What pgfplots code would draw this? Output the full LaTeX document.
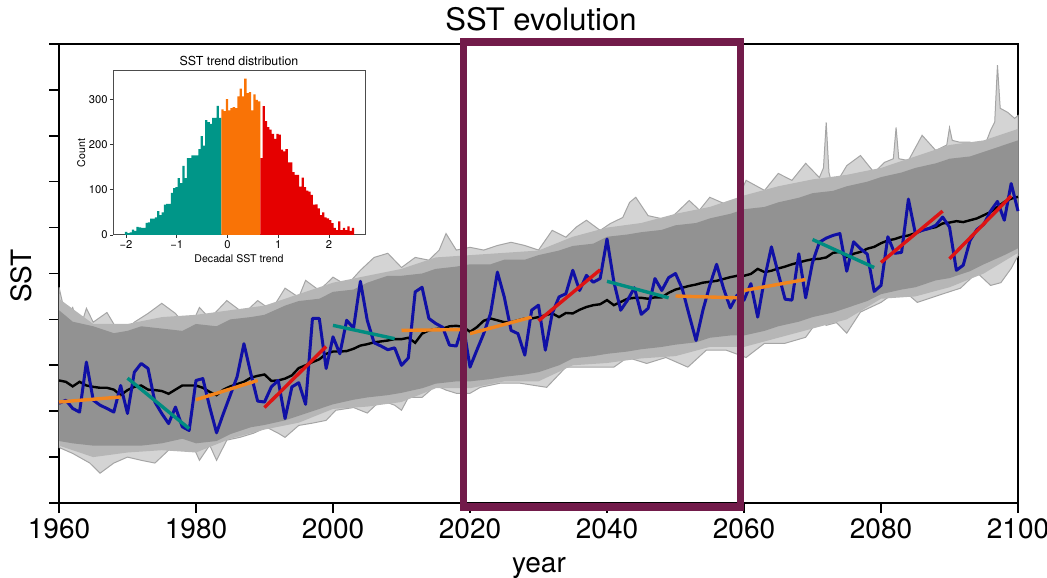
\documentclass[border=0pt]{standalone}
\usepackage{fontspec}
\setmainfont{TeX Gyre Heros}
\usepackage{pgfplots}
\pgfplotsset{compat=1.18}
\definecolor{obsblue}{RGB}{16,16,165}
\definecolor{tealc}{RGB}{0,150,136}
\definecolor{orangec}{RGB}{249,115,6}
\definecolor{redc}{RGB}{229,0,0}
\definecolor{ttl}{RGB}{0,140,128}
\definecolor{tor}{RGB}{242,133,30}
\definecolor{trd}{RGB}{222,20,20}
\definecolor{maroon}{RGB}{114,27,74}
\definecolor{envout}{RGB}{212,212,212}
\definecolor{envline}{RGB}{165,165,165}
\definecolor{envmid}{RGB}{182,182,182}
\definecolor{envcore}{RGB}{146,146,146}
\begin{document}
\begin{tikzpicture}
\useasboundingbox (-29.5pt,-37pt) rectangle (494pt,251.5pt);
\begin{axis}[at={(0pt,0pt)}, anchor=south west, scale only axis,
  width=479.5pt, height=229.5pt,
  xmin=1960, xmax=2100, ymin=0, ymax=10,
  xtick={1960,1980,...,2100}, ytick={0,...,10}, yticklabels={},
  xtick pos=bottom, ytick pos=left,
  tick align=outside, major tick length=5pt,
  tick style={black, line width=0.8pt},
  axis line style={line width=1pt},
  /pgf/number format/assume math mode=true,
  /pgf/number format/1000 sep={},
  xticklabel style={font=\fontsize{14}{17}\selectfont, inner sep=0pt, anchor=north, yshift=-2.5pt},
  clip=false]
% ensemble envelope (outer, sparse members)
\addplot[fill=envout, draw=envline, line width=0.5pt] coordinates {
(1960,4.70)(1961,4.05)(1962,4.26)(1963,3.76)(1964,4.24)(1965,3.94)(1967,4.15)(1969,3.65)(1971,3.94)(1973,4.13)(1975,4.35)(1977,4.13)(1979,3.76)(1980.5,4.26)(1982,4.02)(1984.5,4.41)(1987,4.13)(1989,4.41)(1991,4.20)(1993,4.68)(1995,4.48)(1996,4.85)(1998,4.63)(2000,4.92)(2002,4.74)(2004,5.07)(2006,5.35)(2008,5.44)(2010,5.13)(2012,5.35)(2014,5.29)(2015.5,5.51)(2016.5,5.87)(2018,5.51)(2020,5.57)(2022,5.51)(2024,5.61)(2026,5.68)(2028,5.61)(2030,5.51)(2032,5.94)(2034,5.79)(2035.5,6.01)(2037,6.16)(2039,5.94)(2040.5,6.09)(2042.3,6.22)(2043.3,6.55)(2044.2,6.66)(2046,6.26)(2049,6.16)(2052,6.59)(2053.5,6.38)(2055,6.66)(2057,6.53)(2059,6.59)(2060.3,7.03)(2063,6.81)(2065,7.18)(2067,7.03)(2069,7.40)(2071,7.09)(2071.6,7.3)(2072,8.29)(2072.4,7.2)(2073,6.85)(2075,7.35)(2077,7.57)(2079,7.20)(2080.5,7.42)(2081.8,7.5)(2082.2,8.18)(2082.6,7.5)(2084,7.46)(2086,8.01)(2088,7.68)(2089.6,7.8)(2090,8.18)(2090.4,7.9)(2091.5,7.86)(2093,7.86)(2095,7.73)(2096,8.12)(2096.6,8.3)(2097,9.54)(2097.4,8.6)(2098.5,8.51)(2099.5,8.38)(2100,8.44)
(2100,5.39)(2099,5.11)(2097.5,4.80)(2096,4.74)(2094,5.02)(2091.6,4.68)(2088.3,4.52)(2085.3,4.37)(2082.9,4.68)(2080,4.37)(2077,4.16)(2075,3.70)(2073.5,3.93)(2072,3.87)(2071,4.02)(2069,3.61)(2066,3.48)(2063,3.48)(2060.3,3.17)(2057.4,3.33)(2054.5,3.33)(2051.8,2.96)(2048.6,3.17)(2045.8,3.04)(2043,3.17)(2041,2.96)(2038,2.96)(2034,2.96)(2031.2,2.52)(2027.3,2.61)(2024.4,2.61)(2021.5,2.52)(2020,2.39)(2018,2.39)(2016.5,2.46)(2015,2.56)(2013,2.30)(2011,2.30)(2010,2.02)(2009,2.13)(2007,2.24)(2005,1.96)(2003,2.08)(2000.4,2.02)(1999,1.80)(1997,1.74)(1995,1.69)(1993,1.43)(1992,1.52)(1990.3,1.65)(1988.4,1.52)(1986.4,1.43)(1984.5,1.37)(1983,0.93)(1982,1.26)(1980.5,0.93)(1979,1.43)(1977.7,1.30)(1976,1.15)(1974,0.87)(1972,0.93)(1970,1.00)(1968,0.87)(1966,0.65)(1964.5,0.87)(1962,1.08)(1960,1.21)(1960,4.70)};
% ensemble intermediate band
\addplot[fill=envmid, draw=none] coordinates {
(1960,4.45)(1965,3.90)(1970,3.90)(1975,4.05)(1980,4.10)(1985,4.20)(1990,4.30)(1995,4.55)(2000,4.80)(2005,4.95)(2010,5.10)(2015,5.35)(2020,5.40)(2025,5.45)(2030,5.50)(2035,5.80)(2040,6.00)(2045,6.10)(2050,6.30)(2055,6.45)(2060,6.70)(2065,6.90)(2070,7.05)(2075,7.15)(2080,7.30)(2085,7.55)(2090,7.80)(2095,7.90)(2100,8.15)
(2100,5.45)(2095,5.00)(2090,4.70)(2085,4.50)(2080,4.45)(2075,4.00)(2070,3.80)(2065,3.60)(2060,3.40)(2055,3.40)(2050,3.20)(2045,3.15)(2040,3.05)(2035,3.00)(2030,2.65)(2025,2.65)(2020,2.50)(2015,2.50)(2010,2.20)(2005,2.10)(2000,2.05)(1995,1.75)(1990,1.60)(1985,1.40)(1980,1.10)(1975,1.15)(1970,1.10)(1965,1.00)(1960,1.25)(1960,4.45)};
% ensemble dense core
\addplot[fill=envcore, draw=none] coordinates {
(1960,4.20)(1962,3.95)(1965,3.85)(1968,3.70)(1970,3.75)(1972,3.85)(1975,3.80)(1978,3.75)(1980,3.90)(1983,3.85)(1985,4.00)(1988,4.05)(1990,4.10)(1993,4.30)(1995,4.40)(1998,4.45)(2000,4.60)(2003,4.65)(2005,4.80)(2008,4.95)(2010,4.95)(2013,5.00)(2015,5.10)(2018,5.15)(2020,5.20)(2023,5.20)(2025,5.30)(2028,5.30)(2030,5.40)(2033,5.50)(2035,5.60)(2038,5.65)(2040,5.80)(2043,5.85)(2045,5.90)(2048,5.95)(2050,6.05)(2053,6.10)(2055,6.20)(2058,6.30)(2060,6.40)(2063,6.45)(2065,6.55)(2068,6.65)(2070,6.75)(2073,6.80)(2075,6.90)(2078,7.00)(2080,7.10)(2083,7.20)(2085,7.30)(2088,7.40)(2090,7.50)(2093,7.55)(2095,7.65)(2098,7.80)(2100,7.90)
(2100,5.55)(2098,5.40)(2095,5.20)(2093,5.05)(2090,4.90)(2088,4.85)(2085,4.70)(2083,4.65)(2080,4.55)(2078,4.40)(2075,4.25)(2073,4.15)(2070,4.05)(2068,3.95)(2065,3.85)(2063,3.75)(2060,3.65)(2058,3.65)(2055,3.60)(2053,3.50)(2050,3.45)(2048,3.40)(2045,3.35)(2043,3.30)(2040,3.25)(2038,3.20)(2035,3.15)(2033,3.00)(2030,2.85)(2028,2.80)(2025,2.75)(2023,2.70)(2020,2.65)(2018,2.65)(2015,2.60)(2013,2.50)(2010,2.40)(2008,2.35)(2005,2.30)(2003,2.25)(2000,2.15)(1998,2.05)(1995,1.90)(1993,1.80)(1990,1.70)(1988,1.65)(1985,1.50)(1983,1.35)(1980,1.30)(1978,1.40)(1975,1.30)(1972,1.25)(1970,1.25)(1968,1.25)(1965,1.25)(1962,1.30)(1960,1.35)(1960,4.20)};
% ensemble mean
\addplot[black, line width=1.2pt, mark=none] coordinates {
(1960,2.67)(1961,2.64)(1962,2.54)(1963,2.64)(1964,2.56)(1965,2.53)(1966,2.51)(1967,2.51)(1968,2.47)(1969,2.35)(1970,2.46)(1971,2.53)(1972,2.56)(1973,2.47)(1974,2.46)(1975,2.44)(1976,2.38)(1977,2.47)(1978,2.56)(1979,2.56)(1980,2.56)(1981,2.51)(1982,2.42)(1983,2.35)(1984,2.47)(1985,2.54)(1986,2.59)(1987,2.64)(1988,2.73)(1989,2.77)(1990,2.80)(1991,2.66)(1992,2.67)(1993,2.71)(1994,2.78)(1995,2.94)(1996,3.00)(1997,3.07)(1998,3.13)(1999,3.25)(2000,3.30)(2001,3.30)(2002,3.31)(2003,3.36)(2004,3.43)(2005,3.46)(2006,3.50)(2007,3.52)(2008,3.54)(2009,3.57)(2010,3.57)(2011,3.60)(2012,3.49)(2013,3.69)(2014,3.76)(2015,3.79)(2016,3.80)(2017,3.85)(2018,3.86)(2019,3.84)(2020,3.73)(2021,3.83)(2022,3.97)(2023,4.02)(2024,3.98)(2025,3.94)(2026,3.94)(2027,3.98)(2028,4.02)(2029,4.02)(2030,4.05)(2031,4.09)(2032,4.13)(2033,4.05)(2034,4.14)(2035,4.13)(2036,4.21)(2037,4.27)(2038,4.31)(2039,4.33)(2040,4.42)(2041,4.31)(2042,4.38)(2043,4.45)(2044,4.47)(2045,4.47)(2046,4.45)(2047,4.48)(2048,4.48)(2049,4.58)(2050,4.65)(2051,4.69)(2052,4.73)(2053,4.76)(2054,4.80)(2055,4.82)(2056,4.84)(2057,4.88)(2058,4.92)(2059,4.95)(2060,4.95)(2061,4.99)(2062,5.10)(2063,5.03)(2064,5.06)(2065,5.11)(2066,5.15)(2067,5.20)(2068,5.24)(2069,5.28)(2070,5.31)(2071,5.32)(2072,5.35)(2073,5.45)(2074,5.47)(2075,5.36)(2076,5.43)(2077,5.47)(2078,5.54)(2079,5.58)(2080,5.66)(2081,5.72)(2082,5.75)(2083,5.80)(2084,5.83)(2085,5.88)(2086,5.94)(2087,5.98)(2088,6.01)(2089,6.09)(2090,6.11)(2091,6.14)(2092,6.12)(2093,6.16)(2094,6.20)(2095,6.27)(2096,6.34)(2097,6.45)(2098,6.56)(2099,6.63)(2100,6.67)};
% observed series
\addplot[obsblue, line width=1.5pt, mark=none, line join=round] coordinates {
(1960,2.17)(1961,2.24)(1962,2.06)(1963,1.98)(1964,3.07)(1965,2.24)(1966,2.13)(1967,2.06)(1968,1.98)(1969,2.56)(1970,1.95)(1971,2.85)(1972,3.04)(1973,2.93)(1974,2.20)(1975,1.95)(1976,1.73)(1977,2.09)(1978,1.66)(1979,1.58)(1980,2.67)(1981,2.71)(1982,2.09)(1983,1.53)(1984,1.95)(1985,2.35)(1986,2.75)(1987,3.47)(1988,2.82)(1989,2.22)(1990,2.20)(1991,2.53)(1992,2.67)(1993,1.84)(1994,2.53)(1995,2.62)(1996,2.15)(1997,4.02)(1998,4.02)(1999,2.93)(2000,3.62)(2001,3.25)(2002,3.98)(2003,3.81)(2004,4.83)(2005,3.98)(2006,3.49)(2007,3.42)(2008,3.34)(2009,3.38)(2010,3.00)(2011,3.16)(2012,4.60)(2013,4.70)(2014,4.02)(2015,3.91)(2016,3.83)(2017,3.44)(2018,3.42)(2019,3.89)(2020,2.96)(2021,3.33)(2022,3.69)(2023,4.13)(2024,5.03)(2025,4.49)(2026,3.76)(2027,3.69)(2028,3.22)(2029,4.20)(2030,4.31)(2031,3.33)(2032,4.13)(2033,4.49)(2034,4.56)(2035,5.07)(2036,4.63)(2037,4.96)(2038,4.81)(2039,4.89)(2040,5.75)(2041,4.82)(2042,4.20)(2043,4.42)(2044,4.69)(2045,4.11)(2046,4.24)(2047,4.89)(2048,4.63)(2049,4.91)(2050,5.00)(2051,4.66)(2052,4.09)(2053,3.54)(2054,4.20)(2055,4.74)(2056,5.20)(2057,4.68)(2058,4.25)(2059,4.53)(2060,4.42)(2061,4.78)(2062,4.05)(2063,4.89)(2064,5.58)(2065,5.00)(2066,4.44)(2067,4.42)(2068,5.43)(2069,4.47)(2070,5.24)(2071,5.68)(2072,5.77)(2073,5.83)(2074,5.87)(2075,5.05)(2076,5.69)(2077,5.54)(2078,5.42)(2079,4.61)(2080,4.74)(2081,5.80)(2082,5.44)(2083,5.46)(2084,6.62)(2085,5.88)(2086,5.94)(2087,5.98)(2088,6.05)(2089,6.23)(2090,6.01)(2091,5.07)(2092,5.18)(2093,5.72)(2094,5.96)(2095,6.07)(2096,6.36)(2097,6.57)(2098,6.16)(2099,6.96)(2100,6.36)};
% decadal trends
\addplot[tor, line width=1.7pt] coordinates {(1960,2.20)(1969,2.31)};
\addplot[ttl, line width=1.7pt] coordinates {(1970,2.72)(1979,1.62)};
\addplot[tor, line width=1.7pt] coordinates {(1980,2.25)(1989,2.67)};
\addplot[trd, line width=1.7pt] coordinates {(1990,2.08)(1999,3.41)};
\addplot[ttl, line width=1.7pt] coordinates {(2000,3.87)(2009,3.58)};
\addplot[tor, line width=1.7pt] coordinates {(2010,3.76)(2019,3.78)};
\addplot[tor, line width=1.7pt] coordinates {(2020,3.69)(2029,4.05)};
\addplot[trd, line width=1.7pt] coordinates {(2030,3.97)(2039,5.08)};
\addplot[ttl, line width=1.7pt] coordinates {(2040,4.83)(2049,4.47)};
\addplot[tor, line width=1.7pt] coordinates {(2050,4.51)(2059,4.47)};
\addplot[tor, line width=1.7pt] coordinates {(2060,4.63)(2069,4.87)};
\addplot[ttl, line width=1.7pt] coordinates {(2070,5.74)(2079,5.13)};
\addplot[trd, line width=1.7pt] coordinates {(2080,5.24)(2089,6.36)};
\addplot[trd, line width=1.7pt] coordinates {(2090,5.32)(2099,6.69)};
% highlight window
\draw[maroon, line width=3.85pt] (axis cs:2019.05,-0.09) rectangle (axis cs:2059.5,10.04);
\end{axis}
\node[anchor=base, font=\fontsize{15.5}{18}\selectfont] at (241pt,236pt) {SST evolution};
\node[anchor=base, font=\fontsize{14}{16}\selectfont] at (240pt,-34.5pt) {year};
\node[anchor=base, rotate=90, font=\fontsize{14}{16}\selectfont] at (-13.5pt,113.5pt) {SST};
% inset histogram
\begin{axis}[at={(27pt,134pt)}, anchor=south west, scale only axis,
  width=126pt, height=82pt,
  xmin=-2.256, xmax=2.71, ymin=0, ymax=363,
  xtick={-2,...,2}, xticklabels={−2,−1,0,1,2},
  ytick={0,100,200,300},
  xtick pos=bottom, ytick pos=left,
  tick align=outside, major tick length=1.5pt,
  tick style={black!80, line width=0.4pt},
  axis line style={line width=0.5pt, black!70},
  /pgf/number format/assume math mode=true,
  tick label style={font=\fontsize{5.6}{6.5}\selectfont},
  xticklabel style={inner sep=1pt},
  yticklabel style={inner sep=1pt}]
\addplot[ybar interval, fill=tealc, draw=none] coordinates {
(-2.020,7)(-1.975,4)(-1.930,6)(-1.884,12)(-1.839,9)(-1.794,18)(-1.749,17)(-1.704,16)(-1.659,16)(-1.613,27)(-1.568,28)(-1.523,36)(-1.478,36)(-1.433,39)(-1.387,53)(-1.342,44)(-1.297,50)(-1.252,67)(-1.207,69)(-1.162,69)(-1.116,93)(-1.071,104)(-1.026,106)(-0.981,126)(-0.936,115)(-0.891,153)(-0.845,126)(-0.800,170)(-0.755,170)(-0.710,176)(-0.665,176)(-0.619,176)(-0.574,190)(-0.529,219)(-0.484,198)(-0.439,254)(-0.394,250)(-0.348,246)(-0.303,259)(-0.258,259)(-0.213,286)(-0.168,259)(-0.122,259)};
\addplot[ybar interval, fill=orangec, draw=none] coordinates {
(-0.122,278)(-0.077,274)(-0.032,301)(0.013,276)(0.058,281)(0.103,283)(0.149,281)(0.194,307)(0.239,324)(0.284,307)(0.329,346)(0.375,314)(0.420,316)(0.465,276)(0.510,311)(0.555,299)(0.600,296)(0.646,296)};
\addplot[ybar interval, fill=redc, draw=none] coordinates {
(0.646,170)(0.691,285)(0.736,252)(0.781,239)(0.826,233)(0.872,224)(0.917,213)(0.962,224)(1.007,222)(1.052,189)(1.097,185)(1.143,190)(1.188,161)(1.233,161)(1.278,139)(1.323,133)(1.369,133)(1.414,107)(1.459,127)(1.504,106)(1.549,98)(1.594,96)(1.640,89)(1.685,67)(1.730,68)(1.775,59)(1.820,44)(1.866,50)(1.911,39)(1.956,37)(2.001,33)(2.046,26)(2.091,16)(2.137,11)(2.182,30)(2.227,11)(2.272,16)(2.317,11)(2.363,19)(2.408,9)(2.453,16)(2.498,16)};
\end{axis}
\node[anchor=base, font=\fontsize{6.2}{7}\selectfont] at (90pt,218.6pt) {SST trend distribution};
\node[anchor=base, font=\fontsize{5.3}{6}\selectfont] at (90pt,120pt) {Decadal SST trend};
\node[anchor=base, rotate=90, font=\fontsize{5.3}{6}\selectfont] at (13pt,175pt) {Count};
\end{tikzpicture}
\end{document}
